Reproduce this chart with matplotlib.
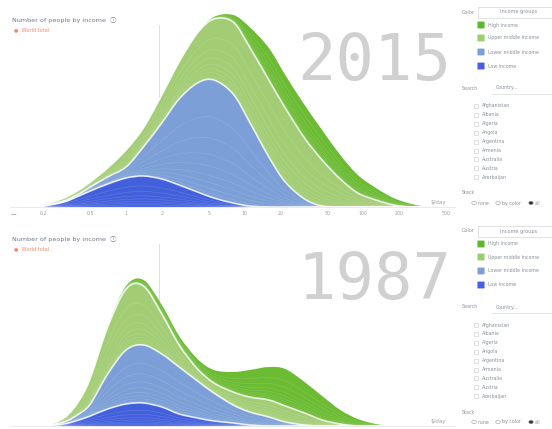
import numpy as np
import matplotlib
matplotlib.use("Agg")
import matplotlib.pyplot as plt
from matplotlib.path import Path
from matplotlib.patches import PathPatch, FancyBboxPatch, Rectangle, Circle

# Income grid ($/day) the mountain heights are read at
income = [0.15, 0.2, 0.3, 0.4, 0.5, 0.7, 1, 1.4, 2, 2.8, 4, 5.5, 8, 11, 16,
          22, 32, 45, 64, 90, 128, 180, 256, 360, 500]

# 2015: thickness of each income group layer (bottom -> top)
low_2015 = [0, 1, 5, 11, 16, 23, 29, 31, 28, 22, 15, 9, 4, 1, 0,
            0, 0, 0, 0, 0, 0, 0, 0, 0, 0]
lower_mid_2015 = [0, 0, 1, 2, 4, 7, 11, 29, 56, 86, 109, 118, 109, 84, 50,
                  25, 8, 1, 0, 0, 0, 0, 0, 0, 0]
upper_mid_2015 = [0, 1, 3, 4, 5, 9, 17, 19, 28, 37, 50, 61, 72, 75, 77,
                  74, 61, 46, 28, 14, 7, 2, 0, 0, 0]
high_2015 = [0, 0, 0, 0, 0, 0, 0, 0, 0, 0, 0, 2, 7, 20, 32,
             33, 33, 30, 24, 18, 12, 7, 3, 0, 0]

# 1987
low_1987 = [0, 0, 2, 6, 10, 17, 22, 23, 19, 12, 8, 5, 3, 1, 0,
            0, 0, 0, 0, 0, 0, 0, 0, 0, 0]
lower_mid_1987 = [0, 0, 2, 6, 12, 35, 54, 58, 53, 47, 37, 28, 18, 13, 9,
                  4, 1, 0, 0, 0, 0, 0, 0, 0, 0]
upper_mid_1987 = [0, 0, 4, 13, 26, 47, 61, 59, 40, 22, 12, 10, 13, 15, 17,
                  16, 12, 6, 2, 0, 0, 0, 0, 0, 0]
high_1987 = [0, 0, 0, 0, 0, 1, 3, 6, 9, 9, 10, 13, 20, 27, 33,
             37, 31, 24, 14, 7, 2, 0, 0, 0, 0]

group_colors = ["#4360dc", "#7b9fd6", "#a2cd74", "#6bbb33"]
legend_colors = ["#5cb82e", "#9ccf6f", "#7e9ed6", "#4a5de5"]
legend_labels = ["High income", "Upper middle income", "Lower middle income", "Low income"]
countries = ["Afghanistan", "Albania", "Algeria", "Angola", "Argentina",
             "Armenia", "Australia", "Austria", "Azerbaijan"]
tick_values = [0.2, 0.5, 1, 2, 5, 10, 20, 50, 100, 200, 500]
tick_labels = ["0.2", "0.5", "1", "2", "5", "10", "20", "50", "100", "200", "500"]
poverty_line = 1.9

W, H = 552, 429
TEXT = "#8a929c"
plt.rcParams["font.family"] = ["DejaVu Sans", "Noto Sans CJK SC"]


def smooth_segments(x, y):
    # Catmull-Rom style Bezier controls through the points (log-x space)
    lx = np.log10(np.asarray(x, float))
    y = np.asarray(y, float)
    n = len(lx)
    segs = []
    for i in range(n - 1):
        p0 = max(i - 1, 0)
        p3 = min(i + 2, n - 1)
        c1x = lx[i] + (lx[i + 1] - lx[p0]) / 6
        c1y = max(y[i] + (y[i + 1] - y[p0]) / 6, 0)
        c2x = lx[i + 1] - (lx[p3] - lx[i]) / 6
        c2y = max(y[i + 1] - (y[p3] - y[i]) / 6, 0)
        if y[i] == 0 and y[i + 1] == 0:
            c1y = c2y = 0
        segs.append(((c1x, c1y), (c2x, c2y), (lx[i + 1], y[i + 1])))
    return lx, y, segs


def curve_path(x, y):
    lx, y, segs = smooth_segments(x, y)
    verts = [(lx[0], y[0])]
    codes = [Path.MOVETO]
    for c1, c2, p in segs:
        verts += [c1, c2, p]
        codes += [Path.CURVE4] * 3
    verts = np.array(verts)
    verts[:, 0] = 10 ** verts[:, 0]
    return Path(verts, codes)


def band_path(x, lower, upper):
    lx, yu, segs_u = smooth_segments(x, upper)
    _, yl, segs_l = smooth_segments(x, lower)
    verts = [(lx[0], yu[0])]
    codes = [Path.MOVETO]
    for c1, c2, p in segs_u:
        verts += [c1, c2, p]
        codes += [Path.CURVE4] * 3
    verts.append((lx[-1], yl[-1]))
    codes.append(Path.LINETO)
    for i in range(len(segs_l) - 1, -1, -1):
        c1, c2, _ = segs_l[i]
        verts += [c2, c1, (lx[i], yl[i])]
        codes += [Path.CURVE4] * 3
    verts.append((lx[0], yu[0]))
    codes.append(Path.CLOSEPOLY)
    verts = np.array(verts)
    verts[:, 0] = 10 ** verts[:, 0]
    return Path(verts, codes)


def mountain(ax, layers):
    bottom = np.zeros(len(income))
    tops = []
    for vals, color in zip(layers, group_colors):
        top = bottom + np.asarray(vals, float)
        ax.add_patch(PathPatch(band_path(income, bottom, top), facecolor=color,
                               edgecolor="none", zorder=2))
        # country strata texture, denser near the bottom of each group
        for f in [0.03, 0.07, 0.12, 0.18, 0.26, 0.36, 0.5, 0.68]:
            mid = bottom + f * (top - bottom)
            ax.add_patch(PathPatch(curve_path(income, mid), fill=False,
                                   edgecolor="white", lw=0.4, alpha=0.17, zorder=3))
        tops.append(top)
        bottom = top
    # white outlines at group borders
    for top in tops[:-1]:
        ax.add_patch(PathPatch(curve_path(income, top), fill=False,
                               edgecolor="white", lw=1.2, alpha=0.8, zorder=4))


def side_panel(fig, dy):
    def px(x, y):
        return x / W, 1 - (y + dy) / H

    fig.text(*px(462, 12), "Color", fontsize=3.6, color=TEXT, va="center")
    fig.add_artist(Rectangle(px(478, 18), 74 / W, 11 / H, transform=fig.transFigure,
                             facecolor="white", edgecolor="#dddddd", lw=0.6))
    fig.text(*px(500, 12), "Income groups", fontsize=3.6, color=TEXT, va="center")
    for i, (lab, col) in enumerate(zip(legend_labels, legend_colors)):
        y = [25, 38, 52, 66][i]
        fig.add_artist(FancyBboxPatch(px(478, y + 3), 6 / W, 6 / H,
                                      boxstyle="round,pad=0.001", transform=fig.transFigure,
                                      facecolor=col, edgecolor="none"))
        fig.text(*px(488, y), lab, fontsize=3.4, color=TEXT, va="center")
    fig.text(*px(462, 88), "Search", fontsize=3.4, color=TEXT, va="center")
    fig.text(*px(496, 88), "Country...", fontsize=3.4, color=TEXT, va="center")
    fig.add_artist(plt.Line2D([492 / W, 1], [1 - (dy + 94) / H] * 2,
                              transform=fig.transFigure, color="#e3e3e3", lw=0.6))
    for i, name in enumerate(countries):
        y = 106 + 8.9 * i
        fig.add_artist(Rectangle(px(474, y + 2), 4 / W, 4 / H, transform=fig.transFigure,
                                 facecolor="white", edgecolor="#cccccc", lw=0.4))
        fig.text(*px(482, y), name, fontsize=3.4, color=TEXT, va="center")
    fig.text(*px(462, 193), "Stack", fontsize=3.4, color=TEXT, va="center")
    for x, lab, filled in [(474, "none", False), (498, "by color", False), (531, "all", True)]:
        fig.add_artist(Circle(px(x, 203), 2.2 / W, transform=fig.transFigure,
                              facecolor="#333333" if filled else "white",
                              edgecolor="#999999", lw=0.4))
        fig.text(*px(x + 4, 203), lab, fontsize=3.4, color=TEXT, va="center")


def panel(fig, dy, year, layers, show_ticks):
    base = 207 + dy
    # big year label behind the mountain
    fig.text(451 / W, 1 - (80 + dy) / H, year, fontsize=46, color="#d0d0d0",
             family="DejaVu Sans Mono", ha="right", va="baseline")
    ax = fig.add_axes([10 / W, 1 - base / H, 445 / W, 202 / H])
    ax.set_xscale("log")
    ax.set_xlim(0.105, 594)
    ax.set_ylim(0, 202)
    mountain(ax, layers)
    ax.axvline(poverty_line, ymin=0, ymax=0.9, color="#dedede", lw=0.7, zorder=1)
    for s in ["top", "right", "left"]:
        ax.spines[s].set_visible(False)
    ax.spines["bottom"].set_color("#e6e6e6")
    ax.spines["bottom"].set_linewidth(0.6)
    ax.set_yticks([])
    ax.minorticks_off()
    ax.set_xticks(tick_values)
    if show_ticks:
        ax.set_xticklabels(tick_labels, fontsize=3.4, color="#9aa0a6")
    else:
        ax.set_xticklabels([])
    ax.tick_params(axis="x", length=0, pad=3)
    ax.patch.set_alpha(0)
    fig.text(446 / W, 1 - (202 + dy) / H, "$/day", fontsize=4, color="#9aa0a6",
             ha="right", va="center")
    # title
    fig.text(12 / W, 1 - (20 + dy) / H, "Number of people by income  \u24d8",
             fontsize=4.6, color="#6d7b8e", va="center")
    fig.text(14 / W, 1 - (30 + dy) / H, "\u25cf  World total", fontsize=3.6,
             color="#f2896b", va="center")
    side_panel(fig, dy)
    return ax


fig = plt.figure(figsize=(W / 100, H / 100), dpi=100)
panel(fig, 0, "2015", [low_2015, lower_mid_2015, upper_mid_2015, high_2015], True)
panel(fig, 219, "1987", [low_1987, lower_mid_1987, upper_mid_1987, high_1987], False)
fig.text(11 / W, 1 - 215 / H, "\u2014", fontsize=4, color="#333333", va="center")

plt.savefig("out.png", dpi=100)
